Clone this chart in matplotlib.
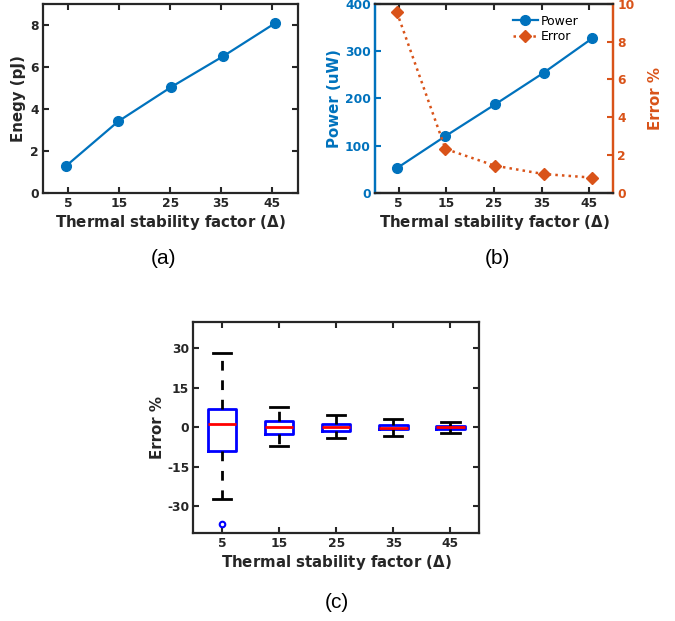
import matplotlib
matplotlib.use("Agg")
import matplotlib.pyplot as plt

# ---- data ----
x_pos = [4.6, 14.8, 25.2, 35.4, 45.6]
x_ticks = [5, 15, 25, 35, 45]
energy = [1.28, 3.40, 5.04, 6.51, 8.09]
power = [52, 120, 187, 254, 327]
error_pct = [9.56, 2.32, 1.43, 0.99, 0.80]

# box-plot statistics for each delta
box_pos = [5, 15, 25, 35, 45]
whislo = [-27.4, -7.0, -4.2, -3.3, -2.2]
q1 = [-9.0, -2.4, -1.3, -0.8, -0.6]
med = [1.4, 0.0, 0.1, -0.2, 0.0]
q3 = [7.0, 2.2, 1.4, 0.8, 0.6]
whishi = [28.0, 7.5, 4.6, 3.0, 2.0]
fliers = [[-36.8], [], [], [], []]

BLUE = "#0072BD"
ORANGE = "#D95319"
DARK = "#262626"
W, H = 675, 621

plt.rcParams['font.family'] = ['DejaVu Sans']
plt.rcParams['font.weight'] = 'bold'
plt.rcParams['axes.unicode_minus'] = False
plt.rcParams['mathtext.fontset'] = 'dejavusans'

XLAB = 'Thermal stability factor ($\\Delta$)'

fig = plt.figure(figsize=(6.75, 6.21), dpi=100)

def add_ax(l, r, t, b):
    return fig.add_axes([l / W, 1 - b / H, (r - l) / W, (b - t) / H])

TS = 8.8
LS = 10.8

def style(ax, right=True):
    for s in ax.spines.values():
        s.set_linewidth(1.6)
        s.set_color(DARK)
    ax.tick_params(direction='in', length=4, width=1.5, top=True, right=right,
                   labelsize=TS, colors=DARK, pad=3)
    for lab in ax.get_xticklabels() + ax.get_yticklabels():
        lab.set_fontweight('bold')

# ---- (a) ----
axa = add_ax(42.7, 297.7, 4, 192.7)
axa.plot(x_pos, energy, '-o', color=BLUE, lw=1.6, ms=7)
axa.set_xlim(0, 50)
axa.set_ylim(0, 9)
axa.set_xticks(x_ticks)
axa.set_yticks([0, 2, 4, 6, 8])
style(axa)
axa.set_xlabel(XLAB, fontsize=LS, fontweight='bold', color=DARK, labelpad=2)
axa.set_ylabel('Enegy (pJ)', fontsize=LS, fontweight='bold', color=DARK, labelpad=3)
fig.text(163 / W, 1 - 258 / H, '(a)', fontsize=15, family='Liberation Sans',
         fontweight='normal', ha='center', va='center')

# ---- (b) ----
axb = add_ax(375, 613, 4, 192.7)
lp, = axb.plot(x_pos, power, '-o', color=BLUE, lw=1.6, ms=7, label='Power')
axb.set_xlim(0, 50)
axb.set_ylim(0, 400)
axb.set_xticks(x_ticks)
axb.set_yticks([0, 100, 200, 300, 400])
axr = axb.twinx()
le, = axr.plot(x_pos, error_pct, ':D', color=ORANGE, lw=1.8, ms=6.5, label='Error')
axr.set_ylim(0, 10)
axr.set_yticks([0, 2, 4, 6, 8, 10])
for s in list(axb.spines.values()) + list(axr.spines.values()):
    s.set_linewidth(1.6)
    s.set_color(DARK)
axr.spines['left'].set_color(BLUE)
axr.spines['right'].set_color(ORANGE)
axb.spines['left'].set_color(BLUE)
axb.spines['right'].set_color(ORANGE)
axb.tick_params(axis='x', direction='in', length=4, width=1.5, top=True,
                labelsize=TS, colors=DARK, pad=3)
axb.tick_params(axis='y', direction='in', length=4, width=1.5, labelsize=TS,
                colors=BLUE, pad=3)
axr.tick_params(axis='y', direction='in', length=4, width=1.5, labelsize=TS,
                colors=ORANGE, pad=3)
for lab in axb.get_xticklabels() + axb.get_yticklabels() + axr.get_yticklabels():
    lab.set_fontweight('bold')
axb.set_xlabel(XLAB, fontsize=LS, fontweight='bold', color=DARK, labelpad=2)
axb.set_ylabel('Power (uW)', fontsize=LS, fontweight='bold', color=BLUE, labelpad=2)
axr.set_ylabel('Error %', fontsize=LS, fontweight='bold', color=ORANGE, labelpad=10)
leg = axr.legend(handles=[lp, le], loc='upper right', frameon=False,
                 fontsize=9, bbox_to_anchor=(0.89, 0.99), handlelength=2.0,
                 handletextpad=0.2, borderpad=0.2, labelspacing=0.2)
for t in leg.get_texts():
    t.set_fontweight('normal')
fig.text(497 / W, 1 - 258 / H, '(b)', fontsize=15, family='Liberation Sans',
         fontweight='normal', ha='center', va='center')

# ---- (c) ----
axc = add_ax(193.3, 479, 321.7, 532.7)
stats = []
for i in range(len(box_pos)):
    stats.append(dict(med=med[i], q1=q1[i], q3=q3[i], whislo=whislo[i],
                      whishi=whishi[i], fliers=fliers[i]))
axc.bxp(stats, positions=box_pos, widths=5, capwidths=3.2, manage_ticks=False,
        boxprops=dict(color='blue', lw=2.0),
        medianprops=dict(color='red', lw=2.0),
        whiskerprops=dict(color='black', lw=2.0, linestyle=(0, (3.5, 3.5))),
        capprops=dict(color='black', lw=2.0),
        flierprops=dict(marker='o', markerfacecolor='none', markeredgecolor='blue',
                        markersize=4, markeredgewidth=1.5))
axc.set_xlim(0, 50)
axc.set_ylim(-40, 40)
axc.set_xticks(x_ticks)
axc.set_xticklabels([str(v) for v in x_ticks])
axc.set_yticks([-30, -15, 0, 15, 30])
style(axc)
axc.set_xlabel(XLAB, fontsize=LS, fontweight='bold', color=DARK, labelpad=2)
axc.set_ylabel('Error %', fontsize=LS, fontweight='bold', color=DARK, labelpad=1)
fig.text(337 / W, 1 - 602 / H, '(c)', fontsize=15, family='Liberation Sans',
         fontweight='normal', ha='center', va='center')

fig.savefig('out.png', dpi=100, facecolor='white')
